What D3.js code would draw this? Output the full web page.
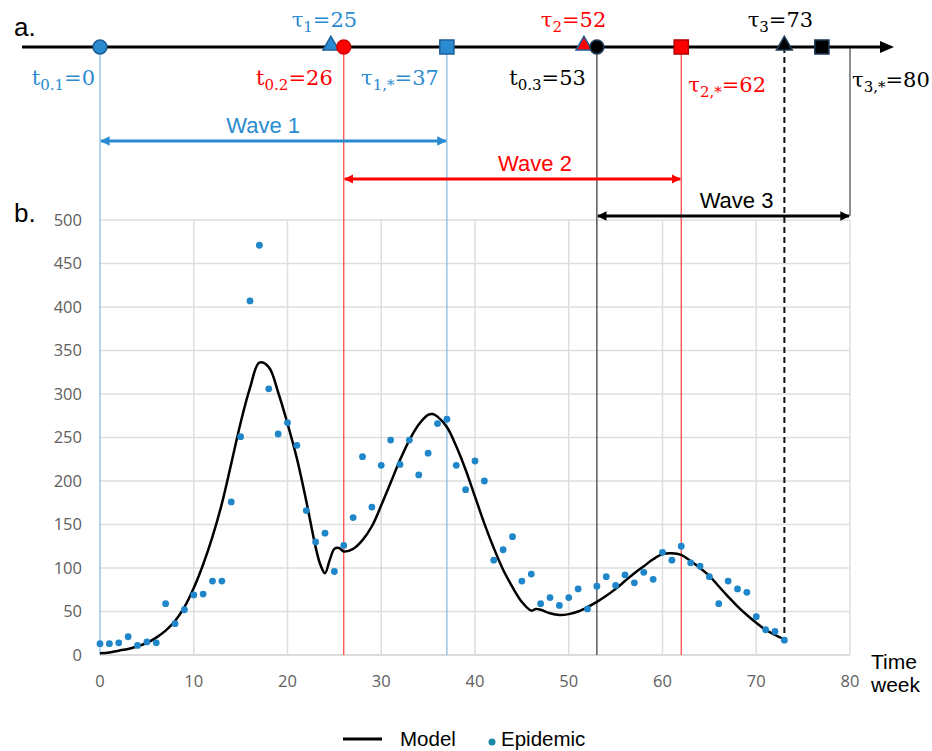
<!DOCTYPE html>
<html><head><meta charset="utf-8">
<script src="https://cdn.jsdelivr.net/npm/d3@7/dist/d3.min.js"></script>
<style>body{margin:0;background:#fff}svg{display:block}</style>
</head><body>
<svg id="chart" width="932" height="751"></svg>
<script>
// ---------- data ----------
const epiWeeks = d3.range(0, 74);
const epidemic = [13,13,14,21,11,15,14,59,36,52,69,70,85,85,176,251,407,471,306,254,
  267,241,166,130,140,96,126,158,228,170,218,247,219,247,207,232,266,271,218,190,
  223,200,109,121,136,85,93,59,66,57,66,76,53,79,90,80,92,83,95,87,
  118,109,125,106,102,90,59,85,76,72,44,29,27,17];
const modelWeeks = [0,1,2,3,4,5,6,7,8,9,10,11,12,13,14,15,16,17,18,19,20,21,22,23,23.5,24,24.5,25,25.5,26,27,28,29,30,31,32,33,34,35,35.5,36,37,38,39,40,41,42,43,44,45,46,46.5,47,48,49,50,51,52,53,54,55,56,57,58,59,60,61,62,63,64,65,66,67,68,69,70,71,72,73];
const modelValues = [2,3,5,7,10,14,20,28,39,55,77,104,136,174,220,267,307,336,331,302,266,226,177,124,104,94,109,122,123,119,122,132,148,172,198,224,247,265,276,277,274,262,240,213,182,151,123,98,78,61,51,53,52,48,46,47,50,55,61,68,76,85,94,102,110,116,117,115,108,100,91,79,67,56,46,37,29,23,18];
const yTicks = [0,50,100,150,200,250,300,350,400,450,500];
const xTicks = [0,10,20,30,40,50,60,70,80];

// timeline events
const eventWeeks  = [0, 25, 26, 37, 52, 53, 62, 73, 77];
const eventShapes = ["triangle","triangle","circle","square","triangle","circle","square","triangle","square"];
eventShapes[0] = "circle";
const waveStart = [0, 26, 53];
const waveEnd   = [37, 62, 80];
const waveNames = ["Wave 1", "Wave 2", "Wave 3"];

// ---------- styles ----------
const BLUE = "#2a8bd0", RED = "#ff0000", BLACK = "#000";
const eventFill   = [BLUE, BLUE, RED, BLUE, RED, BLACK, RED, BLACK, BLACK];
const eventStroke = ["#1f5f96","#1f5f96","#d00000","#1f5f96","#1f5f96","#1f3a5a","#b00000","#1f3a5a","#1f3a5a"];
const eventNudge  = [0, -3.5, 0, 0, -3.5, 0, 0, 0, 0];
const waveColors = [BLUE, RED, BLACK];
const waveY = [141, 179, 216];
const waveLabelWeek = [17.4, 46.4, 67.9];

const svg = d3.select("#chart");
const x = d3.scaleLinear().domain([0, 80]).range([100, 850]);
const y = d3.scaleLinear().domain([0, 500]).range([655, 220]);
const TL = 47; // timeline y

// grid
svg.append("g").selectAll("line").data(yTicks).join("line")
  .attr("x1", x(0)).attr("x2", x(80)).attr("y1", d => y(d)).attr("y2", d => y(d))
  .attr("stroke", d => d === 0 ? "#cfcfcf" : "#dedede").attr("stroke-width", 1.5);
svg.append("g").selectAll("line").data(xTicks.filter(d => d > 0)).join("line")
  .attr("x1", d => x(d)).attr("x2", d => x(d)).attr("y1", y(500)).attr("y2", y(0))
  .attr("stroke", "#dedede").attr("stroke-width", 1.5);

// tick labels
svg.append("g").selectAll("text").data(yTicks).join("text")
  .attr("x", 82).attr("y", d => y(d)).attr("dy", "0.36em").attr("text-anchor", "end")
  .attr("font-family", "Open Sans").attr("font-size", 16.5).attr("fill", "#606060").text(d => d);
svg.append("g").selectAll("text").data(xTicks).join("text")
  .attr("x", d => x(d)).attr("y", 687).attr("text-anchor", "middle")
  .attr("font-family", "Open Sans").attr("font-size", 16.5).attr("fill", "#606060").text(d => d);

// axis title
svg.append("text").attr("x", 871).attr("y", 669).attr("font-family", "Liberation Sans").attr("font-size", 21).text("Time");
svg.append("text").attr("x", 871).attr("y", 692).attr("font-family", "Liberation Sans").attr("font-size", 21).text("week");

// panel letters
svg.append("text").attr("x", 14).attr("y", 36).attr("font-family", "Liberation Sans").attr("font-size", 26).text("a.");
svg.append("text").attr("x", 14).attr("y", 222).attr("font-family", "Liberation Sans").attr("font-size", 26).text("b.");

// vertical event lines
const vlines = [
  {w: 0,  c: "#7fb6e2", y2: y(0)},
  {w: 26, c: "#ff3b3b", y2: y(0)},
  {w: 37, c: "#7fb6e2", y2: y(0)},
  {w: 53, c: "#333",    y2: y(0)},
  {w: 62, c: "#ff3b3b", y2: y(0)},
  {w: 80, c: "#444",    y2: waveY[2]}
];
svg.append("g").selectAll("line").data(vlines).join("line")
  .attr("x1", d => x(d.w)).attr("x2", d => x(d.w)).attr("y1", TL).attr("y2", d => d.y2)
  .attr("stroke", d => d.c).attr("stroke-width", 1.2);
// dashed tau3 line down to last epidemic point
svg.append("line").attr("x1", x(73)).attr("x2", x(73)).attr("y1", TL).attr("y2", y(epidemic[73]))
  .attr("stroke", "#111").attr("stroke-width", 2).attr("stroke-dasharray", "6,4");

// arrow markers
const defs = svg.append("defs");
waveColors.forEach((c, i) => {
  defs.append("marker").attr("id", "ah" + i).attr("viewBox", "0 0 10 10")
    .attr("refX", 9).attr("refY", 5).attr("markerWidth", 3.2).attr("markerHeight", 3.2)
    .attr("orient", "auto-start-reverse").attr("markerUnits", "strokeWidth")
    .append("path").attr("d", "M0,0 L10,5 L0,10 z").attr("fill", c);
});

// wave arrows
waveNames.forEach((n, i) => {
  svg.append("line").attr("x1", x(waveStart[i]) + 1).attr("x2", x(waveEnd[i]) - 1)
    .attr("y1", waveY[i]).attr("y2", waveY[i])
    .attr("stroke", waveColors[i]).attr("stroke-width", 3)
    .attr("marker-start", `url(#ah${i})`).attr("marker-end", `url(#ah${i})`);
  svg.append("text").attr("x", x(waveLabelWeek[i])).attr("y", waveY[i] - 8)
    .attr("text-anchor", "middle").attr("font-family", "Liberation Sans").attr("font-size", 22)
    .attr("fill", waveColors[i]).text(n);
});

// timeline axis
svg.append("line").attr("x1", 22).attr("x2", 884).attr("y1", TL).attr("y2", TL)
  .attr("stroke", "#000").attr("stroke-width", 3.2);
svg.append("path").attr("d", `M880,${TL-6} L894,${TL} L880,${TL+6} Z`).attr("fill", "#000");

// timeline markers (triangles drawn first so circles overlap them)
const sym = {circle: d3.symbolCircle, triangle: d3.symbolTriangle, square: d3.symbolSquare};
const symSize = {circle: 150, triangle: 110, square: 200};
const order = d3.range(eventWeeks.length).sort((a, b) => (eventShapes[a] === "triangle" ? 0 : 1) - (eventShapes[b] === "triangle" ? 0 : 1));
svg.append("g").selectAll("path").data(order).join("path")
  .attr("transform", i => `translate(${x(eventWeeks[i]) + eventNudge[i]},${TL + (eventShapes[i] === "triangle" ? -1.5 : 0)})`)
  .attr("d", i => d3.symbol(sym[eventShapes[i]], symSize[eventShapes[i]])())
  .attr("fill", i => eventFill[i]).attr("stroke", i => eventStroke[i]).attr("stroke-width", 1.5);

// timeline labels
function rich(parts, px, py, anchor, color) {
  const t = svg.append("text").attr("x", px).attr("y", py).attr("text-anchor", anchor)
    .attr("font-family", "DejaVu Serif").attr("font-size", 21).attr("fill", color);
  let shifted = false;
  parts.forEach(p => {
    const s = t.append("tspan").text(p.t);
    if (p.sub) { s.attr("font-size", 15).attr("dy", shifted ? 0 : 5); shifted = true; }
    else { if (shifted) s.attr("dy", -5); shifted = false; }
  });
}
rich([{t:"τ"},{t:"1",sub:true},{t:"=25"}], x(25) - 10, 27, "middle", BLUE);
rich([{t:"τ"},{t:"2",sub:true},{t:"=52"}], x(52) - 14, 27, "middle", RED);
rich([{t:"τ"},{t:"3",sub:true},{t:"=73"}], x(73) - 4, 27, "middle", BLACK);
rich([{t:"t"},{t:"0.1",sub:true},{t:"=0"}], x(0) - 5, 85, "end", BLUE);
rich([{t:"t"},{t:"0.2",sub:true},{t:"=26"}], x(26) - 11, 85, "end", RED);
rich([{t:"τ"},{t:"1,*",sub:true},{t:"=37"}], x(37) - 8, 85, "end", BLUE);
rich([{t:"t"},{t:"0.3",sub:true},{t:"=53"}], x(53) - 11, 85, "end", BLACK);
rich([{t:"τ"},{t:"2,*",sub:true},{t:"=62"}], x(62) + 7, 92, "start", RED);
rich([{t:"τ"},{t:"3,*",sub:true},{t:"=80"}], x(80) + 2, 87, "start", BLACK);

// model curve
const line = d3.line().x((d, i) => x(modelWeeks[i])).y(d => y(d)).curve(d3.curveCatmullRom.alpha(0.5));
svg.append("path").datum(modelValues).attr("d", line)
  .attr("fill", "none").attr("stroke", "#000").attr("stroke-width", 2.5);

// epidemic points
svg.append("g").selectAll("circle").data(epidemic).join("circle")
  .attr("cx", (d, i) => x(epiWeeks[i])).attr("cy", d => y(d)).attr("r", 3.4).attr("fill", "#1f87c9");

// legend
svg.append("line").attr("x1", 343).attr("x2", 382).attr("y1", 739).attr("y2", 739).attr("stroke", "#000").attr("stroke-width", 3);
svg.append("text").attr("x", 400).attr("y", 746).attr("font-family", "Liberation Sans").attr("font-size", 20.5).text("Model");
svg.append("circle").attr("cx", 492).attr("cy", 742).attr("r", 3.5).attr("fill", "#1a8aa6");
svg.append("text").attr("x", 501).attr("y", 746).attr("font-family", "Liberation Sans").attr("font-size", 20.5).text("Epidemic");
</script>
</body></html>
